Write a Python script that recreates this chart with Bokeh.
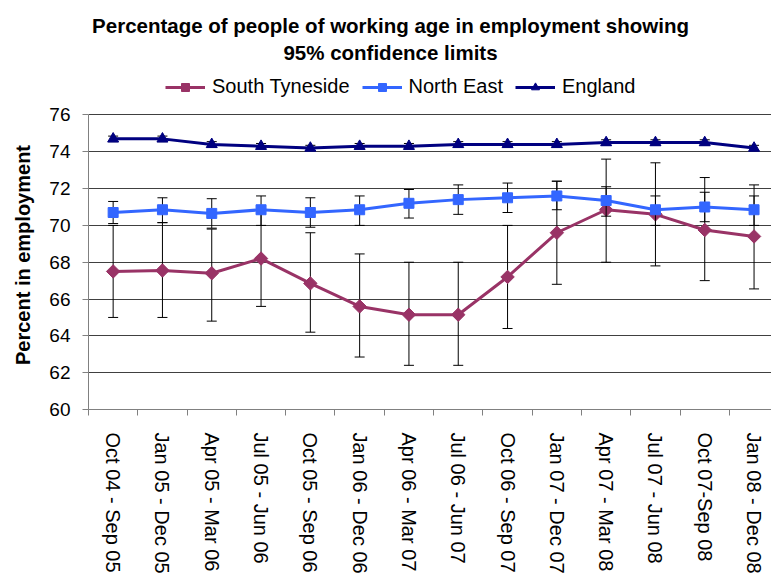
import math
from bokeh.plotting import figure
from bokeh.models import (Range1d, FixedTicker, Label, Legend, LegendItem,
                          ColumnDataSource)
from bokeh.embed import file_html
from bokeh.resources import INLINE

categories = ["Oct 04 - Sep 05", "Jan 05 - Dec 05", "Apr 05 - Mar 06",
              "Jul 05 - Jun 06", "Oct 05 - Sep 06", "Jan 06 - Dec 06",
              "Apr 06 - Mar 07", "Jul 06 - Jun 07", "Oct 06 - Sep 07",
              "Jan 07 - Dec 07", "Apr 07 - Mar 08", "Jul 07 - Jun 08",
              "Oct 07-Sep 08", "Jan 08 - Dec 08"]

south = [67.5, 67.55, 67.4, 68.2, 66.85, 65.6, 65.15, 65.15, 67.2, 69.6, 70.85, 70.6, 69.75, 69.4]
south_lo = [65.0, 65.0, 64.8, 65.6, 64.2, 62.85, 62.4, 62.4, 64.4, 66.8, 68.0, 67.8, 67.0, 66.55]
south_hi = [70.0, 70.15, 69.8, 70.85, 69.6, 68.45, 68.0, 68.0, 70.0, 72.4, 73.6, 73.4, 72.6, 72.2]

north_east = [70.7, 70.85, 70.65, 70.85, 70.7, 70.85, 71.2, 71.4, 71.5, 71.6, 71.35, 70.85, 71.0, 70.85]
north_east_lo = [70.1, 70.15, 69.85, 70.0, 69.9, 70.0, 70.4, 70.6, 70.7, 70.85, 70.5, 70.0, 70.2, 70.0]
north_east_hi = [71.3, 71.5, 71.45, 71.6, 71.5, 71.6, 71.95, 72.2, 72.3, 72.4, 72.1, 71.6, 71.8, 71.6]

england = [74.7, 74.7, 74.4, 74.3, 74.2, 74.3, 74.3, 74.4, 74.4, 74.4, 74.5, 74.5, 74.5, 74.2]
england_lo = [74.55, 74.55, 74.25, 74.15, 74.05, 74.15, 74.15, 74.25, 74.25, 74.25, 74.35, 74.35, 74.35, 74.05]
england_hi = [74.85, 74.85, 74.55, 74.45, 74.35, 74.45, 74.45, 74.55, 74.55, 74.55, 74.65, 74.65, 74.65, 74.35]

y_ticks = [60, 62, 64, 66, 68, 70, 72, 74, 76]
y_min, y_max = 60, 76

title_lines = ["Percentage of people of working age in employment showing",
               "95% confidence limits"]
y_title = "Percent in employment"

FONT = "Liberation Sans"

# Frame spans the whole height down to the x axis; the value axis is bounded
# to 60-76 so the title and legend can sit inside the frame above the data.
p = figure(width=771, height=576, output_backend="svg", toolbar_location=None,
           x_range=Range1d(-0.5, 13.354), y_range=Range1d(y_min, 82.216),
           min_border_left=88, min_border_right=0, min_border_top=0,
           min_border_bottom=165, outline_line_color=None)
p.background_fill_color = "white"
p.border_fill_color = "white"

xs = list(range(len(categories)))

# Grid
p.xgrid.grid_line_color = None
p.ygrid.grid_line_color = "#404040"
p.ygrid.grid_line_width = 1

# Axes
p.xaxis.ticker = FixedTicker(ticks=xs, minor_ticks=[i - 0.5 for i in range(len(categories) + 1)])
p.xaxis.major_label_overrides = {i: c for i, c in enumerate(categories)}
p.xaxis.major_label_orientation = -math.pi / 2
p.xaxis.major_tick_line_color = None
p.xaxis.major_tick_out = 0
p.xaxis.major_tick_in = 0
p.xaxis.minor_tick_line_color = "#808080"
p.xaxis.minor_tick_out = 6
p.xaxis.minor_tick_in = 0
p.xaxis.axis_line_color = "#808080"
p.xaxis.major_label_standoff = 17
p.xaxis.major_label_text_font = FONT
p.xaxis.major_label_text_font_size = "20px"
p.xaxis.major_label_text_color = "black"

p.yaxis.ticker = FixedTicker(ticks=y_ticks)
p.yaxis.bounds = (y_min, y_max)
p.yaxis.minor_tick_line_color = None
p.yaxis.major_tick_out = 6
p.yaxis.major_tick_in = 0
p.yaxis.major_tick_line_color = "#808080"
p.yaxis.axis_line_color = "#808080"
p.yaxis.major_label_standoff = 12
p.yaxis.major_label_text_font = FONT
p.yaxis.major_label_text_font_size = "19px"
p.yaxis.major_label_text_color = "black"
# trailing no-break spaces shift the centred title down beside the 60-76 scale
p.yaxis.axis_label = y_title + "\u00a0" * 18
p.yaxis.axis_label_text_font = FONT
p.yaxis.axis_label_text_font_style = "bold"
p.yaxis.axis_label_text_font_size = "20px"
p.yaxis.axis_label_text_color = "black"
p.yaxis.axis_label_standoff = 12

series = [
    ("South Tyneside", south, south_lo, south_hi, "#993366", "square", 9.5, math.pi / 4),
    ("North East", north_east, north_east_lo, north_east_hi, "#3366FF", "square", 10, 0),
    ("England", england, england_lo, england_hi, "#000080", "triangle", 11, 0),
]

items = []
for name, vals, lo, hi, color, marker, size, angle in series:
    src = ColumnDataSource(dict(x=xs, y=vals, lo=lo, hi=hi))
    p.segment(x0="x", y0="lo", x1="x", y1="hi", source=src, line_color="black", line_width=1)
    p.scatter(x="x", y="lo", source=src, marker="dash", size=10, line_color="black", line_width=1)
    p.scatter(x="x", y="hi", source=src, marker="dash", size=10, line_color="black", line_width=1)
    lr = p.line(x="x", y="y", source=src, line_color=color, line_width=3)
    mr = p.scatter(x="x", y="y", source=src, marker=marker, size=size, angle=angle,
                   fill_color=color, line_color=color)
    items.append(LegendItem(label=name, renderers=[lr, mr]))

legend = Legend(items=items, orientation="horizontal", location=(77, 311),
                glyph_width=40, glyph_height=20, label_standoff=7, spacing=12,
                padding=0, margin=0, border_line_color=None,
                background_fill_alpha=0,
                label_text_font=FONT, label_text_font_size="20px",
                label_text_color="black")
p.add_layout(legend, "center")

title_y = [80.865, 79.405]
for t, ty in zip(title_lines, title_y):
    p.add_layout(Label(x=5.626, y=ty, text=t, text_align="center",
                       text_baseline="middle", text_font=FONT,
                       text_font_style="bold", text_font_size="20.5px",
                       text_color="black"))

open("out.html", "w").write(file_html(p, INLINE))
